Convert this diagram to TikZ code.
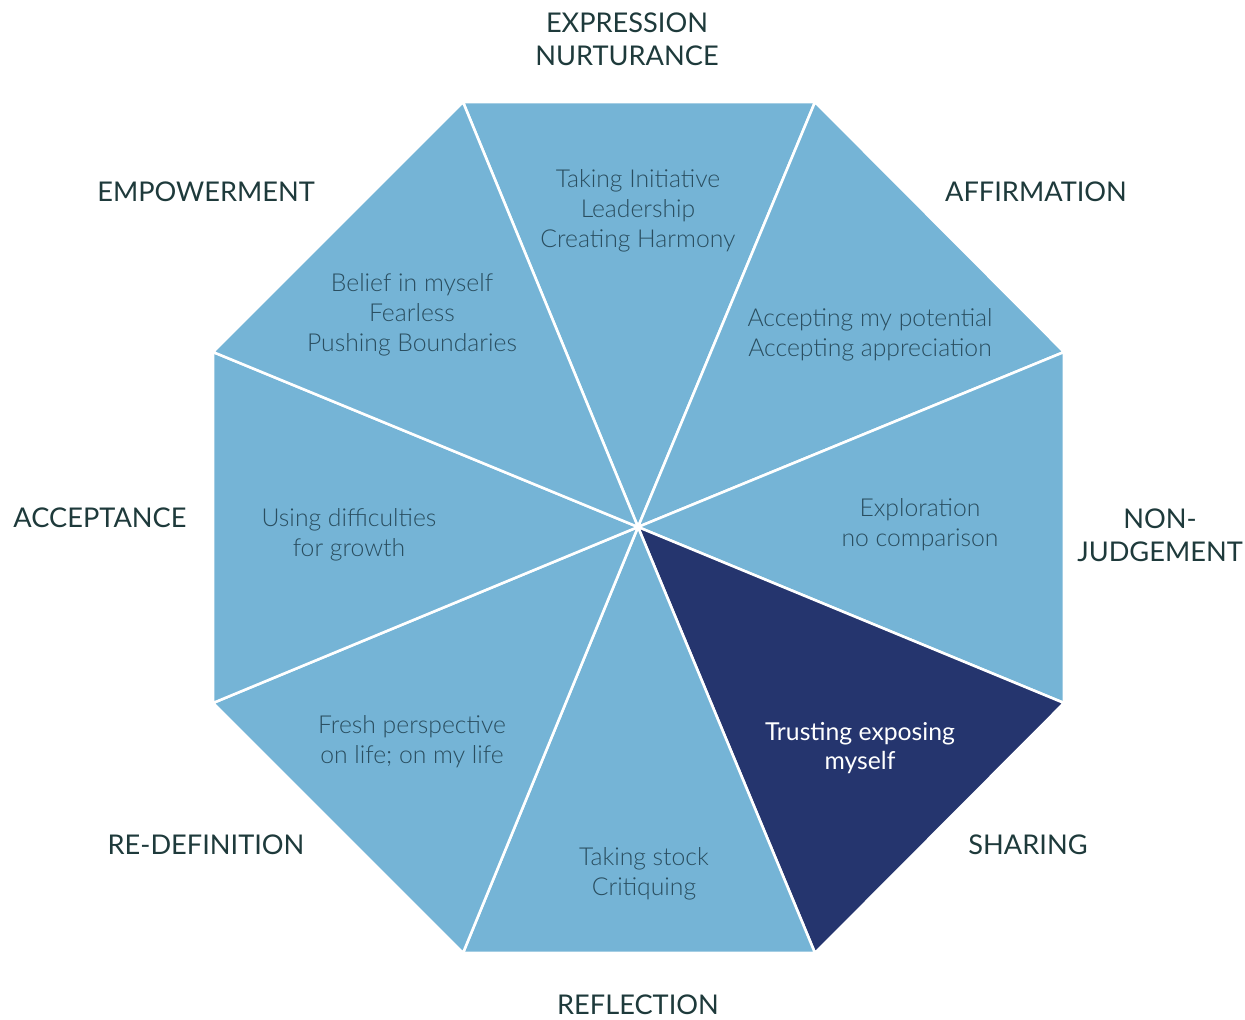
\documentclass[tikz,border=0pt]{standalone}
\usepackage{fontspec}
\setmainfont{Lato}
\newfontfamily\latolight{Lato Light}
\definecolor{segblue}{HTML}{75B4D6}
\definecolor{segdark}{HTML}{25356E}
\definecolor{labelcol}{HTML}{1E3A3B}
\definecolor{innercol}{HTML}{2A4E60}
\begin{document}
\begin{tikzpicture}[x=0.03cm,y=-0.03cm,
  seg/.style={fill=segblue,draw=white,line width=2.2pt,line join=round},
  darkseg/.style={fill=segdark,draw=white,line width=2.2pt,line join=round},
  outer/.style={text=labelcol,font=\fontsize{23.2}{28.2}\selectfont,align=center,inner sep=0pt},
  inner/.style={text=innercol,font=\latolight\fontsize{21.1}{25.5}\selectfont,align=center,inner sep=0pt},
  innerw/.style={text=white,font=\fontsize{21.1}{25.5}\selectfont,align=center,inner sep=0pt}]
\useasboundingbox (0,0) rectangle (1245,1020);
\coordinate (c) at (638,527);
\coordinate (v1) at (463,102);
\coordinate (v2) at (815,102);
\coordinate (v3) at (1064,352);
\coordinate (v4) at (1064,703);
\coordinate (v5) at (815,953);
\coordinate (v6) at (463,953);
\coordinate (v7) at (213,703);
\coordinate (v8) at (213,352);
\draw[seg] (c) -- (v1) -- (v2) -- cycle;
\draw[seg] (c) -- (v2) -- (v3) -- cycle;
\draw[seg] (c) -- (v3) -- (v4) -- cycle;
\draw[darkseg] (c) -- (v4) -- (v5) -- cycle;
\draw[seg] (c) -- (v5) -- (v6) -- cycle;
\draw[seg] (c) -- (v6) -- (v7) -- cycle;
\draw[seg] (c) -- (v7) -- (v8) -- cycle;
\draw[seg] (c) -- (v8) -- (v1) -- cycle;
% inner texts
\node[inner] (t1) at (638,211) {Taking Initiative\\Leadership\\Creating Harmony};
\node[inner] (t2) at (870,335) {Accepting my potential\\Accepting appreciation};
\node[inner] (t3) at (920,525) {Exploration\\no comparison};
\node[innerw] (t4) at (860,748) {Trusting exposing\\myself};
\node[inner] (t5) at (644,874) {Taking stock\\Critiquing};
\node[inner] (t6) at (412,742) {Fresh perspective\\on life; on my life};
\node[inner] (t7) at (349,535) {Using difficulties\\for growth};
\node[inner] (t8) at (412,315) {Belief in myself\\Fearless\\Pushing Boundaries};
% outer labels
\node[outer] (l1) at (627,39) {EXPRESSION\\NURTURANCE};
\node[outer] (l2) at (1036,192) {AFFIRMATION};
\node[outer] (l3) at (1160,535) {NON-\\JUDGEMENT};
\node[outer] (l4) at (1028,845) {SHARING};
\node[outer] (l5) at (638,1005) {REFLECTION};
\node[outer] (l6) at (206,845) {RE-DEFINITION};
\node[outer] (l7) at (100,518) {ACCEPTANCE};
\node[outer] (l8) at (206,192) {EMPOWERMENT};
\end{tikzpicture}
\end{document}
